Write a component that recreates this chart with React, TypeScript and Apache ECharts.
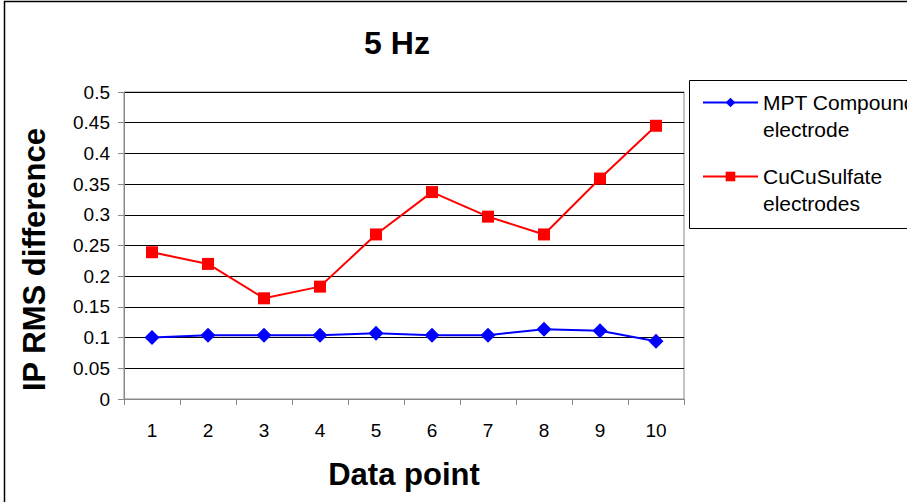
import React, { useEffect, useRef } from "react";
import * as echarts from "echarts";

const dataPoints = ["1", "2", "3", "4", "5", "6", "7", "8", "9", "10"];
const mptValues = [0.1, 0.104, 0.104, 0.104, 0.107, 0.104, 0.104, 0.1135, 0.111, 0.094];
const cuValues = [0.239, 0.22, 0.164, 0.183, 0.268, 0.337, 0.297, 0.268, 0.359, 0.445];
const seriesNames = ["MPT Compound\nelectrode", "CuCuSulfate\nelectrodes"];

const FONT = "Liberation Sans, Arial, sans-serif";

export default function App() {
  const ref = useRef<HTMLDivElement>(null);

  useEffect(() => {
    if (!ref.current) return;
    const chart = echarts.init(ref.current, null, { renderer: "svg" });
    chart.setOption({
      animation: false,
      backgroundColor: "#ffffff",
      textStyle: { fontFamily: FONT },
      title: {
        text: "5 Hz",
        left: 392,
        top: 22,
        textAlign: "center",
        textStyle: { fontSize: 32, fontWeight: "bold", color: "#000", fontFamily: FONT },
      },
      graphic: [
        {
          type: "rect",
          shape: { x: 4.5, y: 1.5, width: 1000, height: 600 },
          style: { fill: "none", stroke: "#000", lineWidth: 1.5 },
          silent: true,
        },
        {
          type: "rect",
          shape: { x: 689.5, y: 80.5, width: 400, height: 148 },
          style: { fill: "#fff", stroke: "#000", lineWidth: 1 },
          silent: true,
          z: -1,
        },
      ],
      legend: {
        orient: "vertical",
        left: 697,
        top: 57,
        itemWidth: 55,
        itemHeight: 12,
        itemGap: -7,
        itemTextGap: 6,
        data: seriesNames,
        // a blank leading line keeps the icon level with the first text line
        formatter: (name: string) => " \n" + name,
        textStyle: {
          fontSize: 21,
          lineHeight: 27,
          color: "#000",
          fontFamily: FONT,
        },
      },
      grid: {
        left: 124,
        top: 92,
        width: 560,
        height: 307,
        show: true,
        borderColor: "#888",
        borderWidth: 1,
        backgroundColor: "#fff",
      },
      xAxis: {
        type: "category",
        data: dataPoints,
        boundaryGap: true,
        name: "Data point",
        nameLocation: "middle",
        nameGap: 60,
        nameTextStyle: { fontSize: 31, fontWeight: "bold", color: "#000", fontFamily: FONT },
        axisLine: { lineStyle: { color: "#888", width: 1 } },
        axisTick: { show: true, length: 6, lineStyle: { color: "#888" } },
        axisLabel: { fontSize: 19, color: "#000", margin: 22, fontFamily: FONT },
        splitLine: { show: false },
      },
      yAxis: {
        type: "value",
        min: 0,
        max: 0.5,
        interval: 0.05,
        name: "IP RMS difference",
        nameLocation: "middle",
        nameGap: 74,
        nameRotate: 90,
        nameTextStyle: {
          fontSize: 31,
          fontWeight: "bold",
          color: "#000",
          fontFamily: FONT,
          padding: [0, 28, 0, 0],
        },
        axisLine: { show: true, lineStyle: { color: "#888", width: 1 } },
        axisTick: { show: true, length: 6, lineStyle: { color: "#888" } },
        axisLabel: {
          fontSize: 19,
          color: "#000",
          margin: 14,
          fontFamily: FONT,
          formatter: (v: number) => String(Math.round(v * 100) / 100),
        },
        splitLine: { show: true, lineStyle: { color: "#000", width: 1 } },
      },
      series: [
        {
          name: seriesNames[0],
          type: "line",
          data: mptValues,
          symbol: "diamond",
          symbolSize: 15,
          color: "#0000ff",
          lineStyle: { color: "#0000ff", width: 2 },
          itemStyle: { color: "#0000ff" },
        },
        {
          name: seriesNames[1],
          type: "line",
          data: cuValues,
          symbol: "rect",
          symbolSize: 12,
          color: "#ff0000",
          lineStyle: { color: "#ff0000", width: 2 },
          itemStyle: { color: "#ff0000" },
        },
      ],
    });
    return () => chart.dispose();
  }, []);

  return (
    <div
      ref={ref}
      style={{ position: "fixed", left: 0, top: 0, width: 907, height: 502 }}
    />
  );
}
